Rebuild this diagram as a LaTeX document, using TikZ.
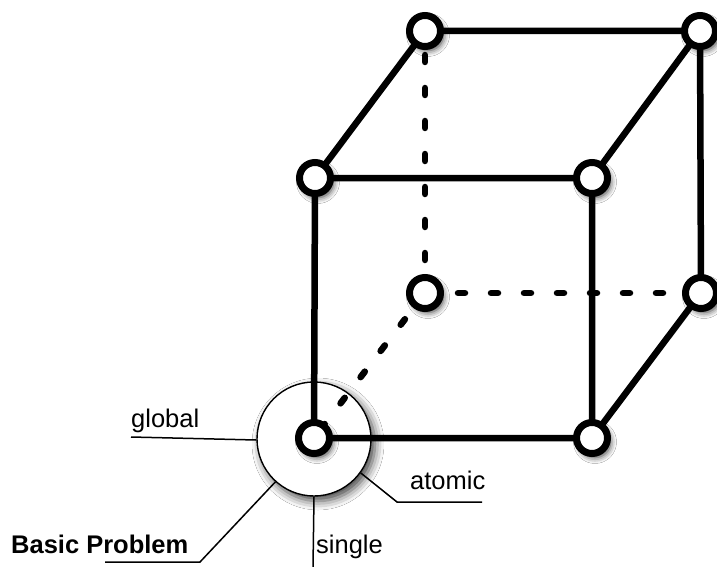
\documentclass[tikz,border=0pt]{standalone}
\usepackage{fontspec}
\setmainfont{Liberation Sans}
\usetikzlibrary{shadows.blur}
\begin{document}
\begin{tikzpicture}[x=1pt,y=-1pt,
  vtx/.style={circle,draw=black,fill=white,line width=7pt,minimum size=31pt,inner sep=0pt,
    blur shadow={shadow xshift=3pt,shadow yshift=-4pt,shadow blur radius=6pt,shadow opacity=80}},
  big/.style={circle,draw=black,fill=white,line width=1.4pt,minimum size=114pt,inner sep=0pt,
    blur shadow={shadow xshift=4pt,shadow yshift=-5pt,shadow blur radius=9pt,shadow opacity=75}},
  edge/.style={line width=6.5pt},
  hidden/.style={line width=6.5pt,line cap=round,dash pattern=on 7pt off 26pt},
  lbl/.style={line width=1.5pt},
  txt/.style={anchor=base west,inner sep=0pt,font=\fontsize{25.5}{30}\selectfont}
]
\useasboundingbox (0,0) rectangle (717,567);
\fill[white] (0,0) rectangle (717,567);

% focus circle
\node[big] (focus) at (314,439) {};

% label connectors
\coordinate (gl) at (131,437);
\coordinate (at1) at (397,502);
\coordinate (at2) at (482,502);
\coordinate (sg) at (313,567);
\coordinate (bp1) at (200,562);
\coordinate (bp2) at (105,562);
\draw[lbl] (focus.181) -- (gl);
\draw[lbl] (focus.-36) -- (at1) -- (at2);
\draw[lbl] (focus.-90) -- (sg);
\draw[lbl] (focus.-132) -- (bp1) -- (bp2);

\node[txt] (tglobal) at (131,427) {global};
\node[txt] (tatomic) at (410,489) {atomic};
\node[txt] (tsingle) at (316,553) {single};
\node[txt,font=\fontsize{25.5}{30}\selectfont\bfseries] (tbasic) at (11,553) {Basic Problem};

% cube vertex positions
\coordinate (pFBL) at (314,438);
\coordinate (pFBR) at (592,438);
\coordinate (pFTL) at (315,178);
\coordinate (pFTR) at (592,178);
\coordinate (pBTL) at (425,31);
\coordinate (pBTR) at (700,31);
\coordinate (pBBL) at (425,293);
\coordinate (pBBR) at (701,293);

% hidden edges
\draw[hidden] (pBBL) -- (pBTL);
\draw[hidden] (pBBL) -- (pBBR);
\draw[hidden] (pBBL) -- (pFBL);

% visible edges
\draw[edge] (pFBL) -- (pFBR) -- (pFTR) -- (pFTL) -- cycle;
\draw[edge] (pFTL) -- (pBTL) -- (pBTR) -- (pFTR);
\draw[edge] (pBTR) -- (pBBR) -- (pFBR);

% vertices
\node[vtx] (BBL) at (pBBL) {};
\node[vtx] (BTL) at (pBTL) {};
\node[vtx] (BTR) at (pBTR) {};
\node[vtx] (BBR) at (pBBR) {};
\node[vtx] (FTL) at (pFTL) {};
\node[vtx] (FTR) at (pFTR) {};
\node[vtx] (FBR) at (pFBR) {};
\node[vtx] (FBL) at (pFBL) {};
\end{tikzpicture}
\end{document}
